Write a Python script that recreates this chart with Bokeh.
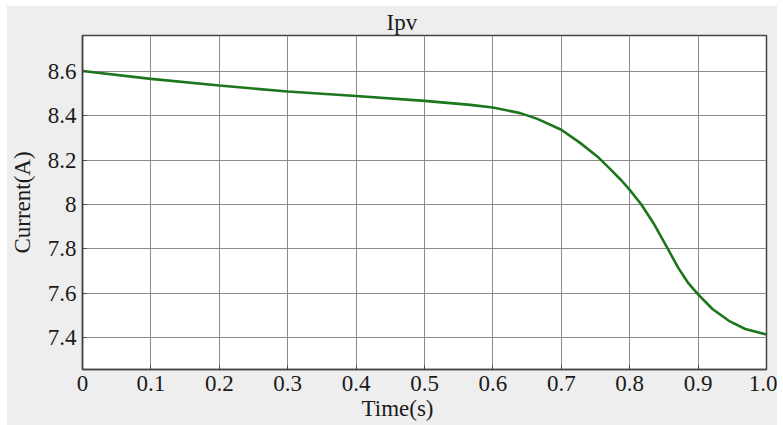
from bokeh.plotting import figure
from bokeh.models import FixedTicker, Range1d, Title
from bokeh.embed import file_html
from bokeh.resources import INLINE

# ---- data ----
time_s = [0.0, 0.1, 0.2, 0.3, 0.4, 0.5, 0.567, 0.6, 0.64, 0.665, 0.7, 0.728,
          0.753, 0.772, 0.788, 0.8, 0.817, 0.836, 0.855, 0.871, 0.886, 0.9,
          0.921, 0.945, 0.969, 1.0]
current_a = [8.6, 8.565, 8.535, 8.508, 8.488, 8.466, 8.448, 8.436, 8.411, 8.385,
             8.336, 8.276, 8.215, 8.158, 8.108, 8.066, 8.0, 7.91, 7.805, 7.715,
             7.645, 7.596, 7.53, 7.477, 7.44, 7.415]

x_ticks = [0.0, 0.1, 0.2, 0.3, 0.4, 0.5, 0.6, 0.7, 0.8, 0.9, 1.0]
x_tick_labels = ["0", "0.1", "0.2", "0.3", "0.4", "0.5", "0.6", "0.7", "0.8", "0.9", "1.0"]
y_ticks = [7.4, 7.6, 7.8, 8.0, 8.2, 8.4, 8.6]
y_tick_labels = ["7.4", "7.6", "7.8", "8", "8.2", "8.4", "8.6"]

title_text = "Ipv"
x_label = "Time(s)"
y_label = "Current(A)"

FONT = "Liberation Serif"
BG = "#eeeeee"
TXT = "#1a1a1a"

p = figure(width=771, height=420, output_backend="svg", toolbar_location=None,
           x_range=Range1d(0, 1.0), y_range=Range1d(7.258, 8.76),
           min_border_left=75, min_border_right=11, min_border_top=30,
           min_border_bottom=56)
p.margin = (5, 6, 0, 6)
p.background_fill_color = "white"
p.border_fill_color = BG
p.outline_line_color = "#444444"
p.outline_line_width = 1.5

p.line(time_s, current_a, line_color="#1c761c", line_width=2.6)

p.xaxis.ticker = FixedTicker(ticks=x_ticks)
p.yaxis.ticker = FixedTicker(ticks=y_ticks)
p.xaxis.major_label_overrides = {t: l for t, l in zip(x_ticks, x_tick_labels)}
p.yaxis.major_label_overrides = {t: l for t, l in zip(y_ticks, y_tick_labels)}

for ax in (p.xaxis, p.yaxis):
    ax.major_label_text_font = FONT
    ax.major_label_text_font_size = "23px"
    ax.major_label_text_color = TXT
    ax.axis_line_color = "#444444"
    ax.axis_line_width = 1.5
    ax.major_tick_out = 0
    ax.major_tick_in = 4
    ax.major_tick_line_color = "#444444"
    ax.minor_tick_line_color = None
    ax.major_label_standoff = 6

p.yaxis.axis_label = y_label
p.yaxis.axis_label_text_font = FONT
p.yaxis.axis_label_text_font_size = "23px"
p.yaxis.axis_label_text_font_style = "normal"
p.yaxis.axis_label_text_color = TXT
p.yaxis.axis_label_standoff = 10

p.xgrid.grid_line_color = "#8a8a8a"
p.ygrid.grid_line_color = "#8a8a8a"
p.xgrid.grid_line_width = 1
p.ygrid.grid_line_width = 1

p.title = Title(text=title_text, align="left", offset=304, standoff=2,
                text_font=FONT, text_font_size="23px",
                text_font_style="normal", text_color=TXT)
p.add_layout(Title(text=x_label, align="left", offset=279, standoff=0,
                   text_font=FONT, text_font_size="23px",
                   text_font_style="normal", text_color=TXT), "below")

open("out.html", "w").write(file_html(p, INLINE))
